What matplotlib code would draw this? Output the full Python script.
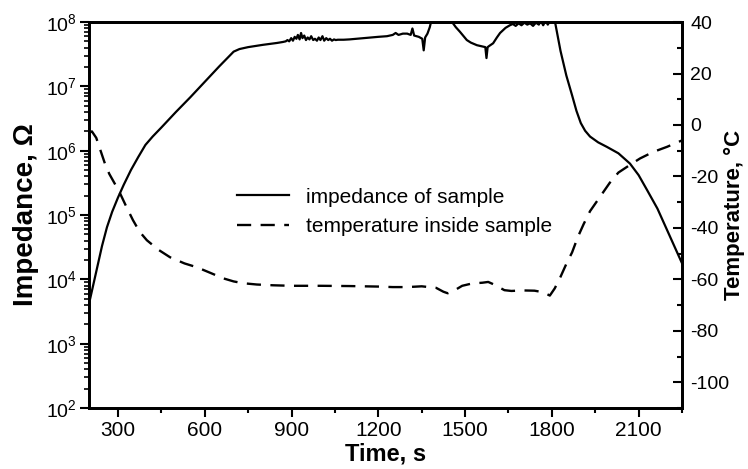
import numpy as np
import matplotlib
matplotlib.use("Agg")
import matplotlib.pyplot as plt
from matplotlib.ticker import LogLocator, MultipleLocator, LogFormatterSciNotation, NullFormatter

plt.rcParams['font.family'] = ['Liberation Sans', 'DejaVu Sans']
plt.rcParams['mathtext.fontset'] = 'custom'
plt.rcParams['mathtext.rm'] = 'Liberation Sans'
plt.rcParams['mathtext.it'] = 'Liberation Sans:italic'
plt.rcParams['mathtext.bf'] = 'Liberation Sans:bold'
plt.rcParams['axes.unicode_minus'] = False

# ---- impedance of sample (time in s, log10 of impedance in ohm) ----
imp_time = [200, 215, 230, 245, 262, 280, 300, 320, 345, 370, 395, 420, 450, 500, 550,
            600, 650, 700, 720, 750, 800, 850, 870, 880, 886, 892, 899, 905, 911, 917,
            922, 928, 933, 938, 944, 950, 956, 962, 968, 975, 981, 988, 994, 1000, 1007,
            1013, 1020, 1027, 1033, 1040, 1047, 1053, 1060, 1080, 1100, 1150, 1200, 1230,
            1250, 1260, 1270, 1285, 1300, 1312, 1318, 1324, 1340, 1352, 1357, 1362, 1370,
            1378, 1385, 1400, 1420, 1440, 1455, 1468, 1482, 1495, 1506, 1520, 1541, 1560,
            1570, 1574, 1578, 1584, 1597, 1610, 1621, 1640, 1655, 1665, 1675, 1685, 1695,
            1705, 1715, 1725, 1735, 1745, 1755, 1762, 1770, 1778, 1786, 1794, 1802, 1806,
            1811, 1830, 1850, 1870, 1885, 1900, 1915, 1932, 1960, 1990, 2030, 2070, 2100,
            2129, 2165, 2198, 2225, 2250]
imp_log = [3.62, 3.92, 4.22, 4.52, 4.81, 5.05, 5.27, 5.47, 5.70, 5.90, 6.09, 6.22, 6.36,
           6.60, 6.83, 7.07, 7.31, 7.54, 7.58, 7.61, 7.645, 7.675, 7.69, 7.70, 7.72, 7.70,
           7.75, 7.71, 7.77, 7.74, 7.80, 7.73, 7.83, 7.75, 7.79, 7.72, 7.76, 7.73, 7.78,
           7.72, 7.74, 7.71, 7.76, 7.72, 7.78, 7.71, 7.75, 7.72, 7.74, 7.71, 7.73, 7.72,
           7.725, 7.725, 7.73, 7.75, 7.77, 7.78, 7.80, 7.83, 7.80, 7.82, 7.82, 7.80, 7.90,
           7.79, 7.77, 7.74, 7.56, 7.76, 7.82, 7.92, 8.05, 8.30, 8.30, 8.30, 8.00, 7.92,
           7.85, 7.78, 7.72, 7.68, 7.64, 7.62, 7.61, 7.44, 7.61, 7.63, 7.67, 7.76, 7.83,
           7.91, 7.95, 7.97, 7.94, 7.98, 7.95, 7.99, 7.96, 7.98, 7.94, 7.99, 7.96, 8.02,
           7.95, 8.02, 7.96, 8.02, 8.05, 8.10, 8.00, 7.55, 7.17, 6.86, 6.62, 6.43, 6.31,
           6.22, 6.13, 6.06, 5.96, 5.80, 5.62, 5.39, 5.10, 4.77, 4.50, 4.25]

# ---- temperature inside sample (time in s, deg C) ----
temp_time = [200, 210, 225, 240, 255, 270, 290, 307, 330, 352, 375, 400, 440, 480, 530,
             573, 620, 664, 700, 733, 780, 836, 900, 1000, 1100, 1200, 1250, 1300, 1350,
             1400, 1425, 1440, 1460, 1490, 1524, 1560, 1580, 1600, 1636, 1660, 1700, 1740,
             1770, 1793, 1810, 1830, 1850, 1870, 1890, 1910, 1932, 1966, 2000, 2030, 2077,
             2105, 2150, 2198, 2250]
temp_val = [-3.0, -2.5, -5.0, -10.0, -15.0, -19.0, -23.0, -26.5, -32.0, -37.0, -41.5,
            -44.8, -48.5, -51.4, -53.8, -55.3, -57.5, -59.6, -60.8, -61.5, -62.0, -62.3,
            -62.5, -62.5, -62.6, -62.8, -63.0, -63.0, -62.7, -63.3, -64.8, -65.4, -64.5,
            -62.5, -61.6, -61.3, -61.0, -62.0, -64.2, -64.5, -64.3, -64.4, -65.0, -66.3,
            -63.5, -59.0, -54.0, -49.5, -43.5, -38.5, -33.5, -28.0, -22.5, -18.5, -15.0,
            -13.0, -10.5, -8.5, -6.0]

x_ticks = [300, 600, 900, 1200, 1500, 1800, 2100]
temp_ticks = [-100, -80, -60, -40, -20, 0, 20, 40]

imp_vals = 10.0 ** np.array(imp_log)

fig = plt.figure(figsize=(7.48, 4.69), dpi=100)
ax = fig.add_axes([0.119, 0.130, 0.7928, 0.823])
ax2 = ax.twinx()

l1, = ax.plot(imp_time, imp_vals, color='black', lw=1.6, solid_joinstyle='round')
l2, = ax2.plot(temp_time, temp_val, color='black', lw=1.7, linestyle=(0, (6, 4)))

ax.set_yscale('log')
ax.set_ylim(1e2, 1e8)
ax.set_xlim(200, 2250)
ax2.set_ylim(-110, 40)

ax.set_xticks(x_ticks)
ax.xaxis.set_minor_locator(MultipleLocator(150))
ax.yaxis.set_major_locator(LogLocator(base=10, numticks=10))
ax.yaxis.set_minor_locator(LogLocator(base=10, subs=np.arange(2, 10), numticks=20))
ax.yaxis.set_minor_formatter(NullFormatter())
ax.yaxis.set_major_formatter(LogFormatterSciNotation())
ax2.set_yticks(temp_ticks)
ax2.yaxis.set_minor_locator(MultipleLocator(10))

for a in (ax, ax2):
    for s in a.spines.values():
        s.set_linewidth(2.0)

ax.tick_params(axis='x', which='major', direction='out', length=6.5, width=1.5,
               labelsize=15, pad=3, top=False)
ax.tick_params(axis='x', which='minor', direction='out', length=3.5, width=1.5, top=False)
ax.tick_params(axis='y', which='major', direction='out', length=6.5, width=1.5,
               labelsize=14, pad=2, right=False)
ax.tick_params(axis='y', which='minor', direction='out', length=3.5, width=1.2, right=False)
ax2.tick_params(axis='y', which='major', direction='in', length=6.5, width=1.5,
                labelsize=14, pad=6)
ax2.tick_params(axis='y', which='minor', direction='in', length=3.5, width=1.5)

ax.set_xlabel('Time, s', fontsize=17, fontweight='bold', labelpad=1.5)
ax.set_ylabel('Impedance, Ω', fontsize=20, fontweight='bold', labelpad=5)
ax2.set_ylabel('Temperature, °C', fontsize=16, fontweight='bold', labelpad=0,
               va='center')
ax2.yaxis.set_label_coords(1.0885, 0.5)

ax.legend([l1, l2], ['impedance of sample', 'temperature inside sample'],
          loc='center left', bbox_to_anchor=(0.25, 0.508), frameon=False,
          fontsize=15, handlelength=2.5, handletextpad=0.8, labelspacing=0.5,
          borderpad=0, borderaxespad=0)

fig.savefig('out.png', dpi=100)
